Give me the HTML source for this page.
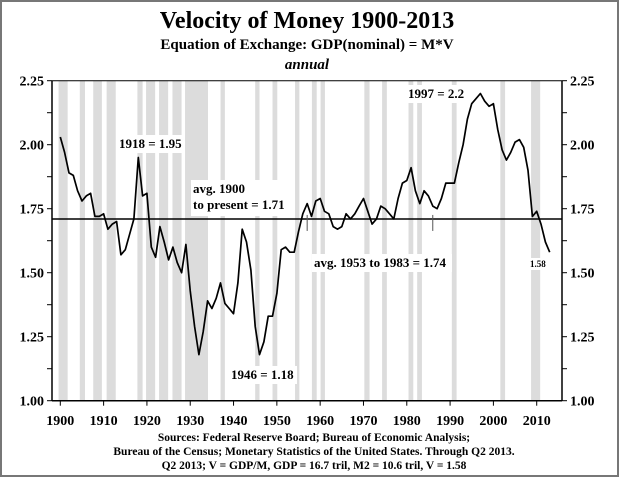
<!DOCTYPE html>
<html><head><meta charset="utf-8"><style>
html,body{margin:0;padding:0;background:#fff;}
svg{display:block;font-family:"Liberation Serif",serif;font-weight:bold;}
</style></head><body>
<svg id="chart" width="620" height="479" viewBox="0 0 620 479">
<rect x="1" y="1" width="617" height="475" fill="#fff" stroke="#777" stroke-width="2"/>
<text x="307" y="28" text-anchor="middle" font-size="24">Velocity of Money 1900-2013</text>
<text x="307" y="49" text-anchor="middle" font-size="15">Equation of Exchange: GDP(nominal) = M*V</text>
<text x="307" y="69" text-anchor="middle" font-size="15" font-style="italic">annual</text>
<g id="bands"></g>
<g id="axes"></g>
<g id="series"></g>
<g id="notes"></g>
<text x="314" y="441" text-anchor="middle" font-size="11.5">Sources: Federal Reserve Board; Bureau of Economic Analysis;</text>
<text x="314" y="455" text-anchor="middle" font-size="11.5">Bureau of the Census; Monetary Statistics of the United States. Through Q2 2013.</text>
<text x="314" y="469" text-anchor="middle" font-size="11.5">Q2 2013; V = GDP/M, GDP = 16.7 tril, M2 = 10.6 tril, V = 1.58</text>
</svg>
<script>
const years = [];
for (let y = 1900; y <= 2013; y++) years.push(y);
const velocity = [2.03,1.97,1.89,1.88,1.82,1.78,1.80,1.81,1.72,1.72,
1.73,1.67,1.69,1.70,1.57,1.59,1.65,1.71,1.95,1.80,
1.81,1.60,1.56,1.68,1.62,1.55,1.60,1.54,1.50,1.61,
1.43,1.29,1.18,1.27,1.39,1.36,1.40,1.46,1.38,1.36,
1.34,1.46,1.67,1.62,1.51,1.29,1.18,1.23,1.33,1.33,
1.42,1.59,1.60,1.58,1.58,1.66,1.73,1.77,1.72,1.78,
1.79,1.74,1.73,1.68,1.67,1.68,1.73,1.71,1.73,1.76,
1.79,1.74,1.69,1.71,1.76,1.75,1.73,1.71,1.79,1.85,
1.86,1.91,1.82,1.77,1.82,1.80,1.76,1.75,1.79,1.85,
1.85,1.85,1.93,2.00,2.10,2.16,2.18,2.20,2.17,2.15,
2.16,2.06,1.98,1.94,1.97,2.01,2.02,1.99,1.90,1.72,
1.74,1.69,1.62,1.58];
const recessionStarts = [1899.6,1904.5,1907.6,1910.7,1917.8,1919.8,1922.8,1925.9,1928.8,1937.0,1945.0,1949.0,1954.2,1958.1,1960.1,1970.2,1974.3,1980.4,1982.4,1990.4,2001.6,2008.7];
const recessionEnds   = [1901.7,1905.7,1909.6,1912.8,1919.0,1921.9,1924.9,1928.0,1934.1,1938.0,1946.0,1950.1,1955.2,1959.2,1961.1,1971.4,1975.4,1981.5,1983.5,1991.5,2002.7,2010.8];
const yTicks = [1.00,1.25,1.50,1.75,2.00,2.25];
const xTicks = [1900,1910,1920,1930,1940,1950,1960,1970,1980,1990,2000,2010];
const avgValue = 1.71;

const NS = "http://www.w3.org/2000/svg";
const L = 52, R = 562, T = 80.7, B = 400.7;
const xs = y => 60.3 + (y - 1900) * 4.331;
const ys = v => B - (v - 1) * 256;
function mk(tag, attrs, parent) {
  const e = document.createElementNS(NS, tag);
  for (const k in attrs) e.setAttribute(k, attrs[k]);
  parent.appendChild(e); return e;
}
const bands = document.getElementById('bands');
recessionStarts.forEach((s, i) => {
  const x0 = Math.max(L, xs(s)), x1 = Math.min(R, xs(recessionEnds[i]));
  const r = mk('rect', {x: x0, y: T, width: x1 - x0, height: B - T, fill: '#dcdcdc'}, bands);
  
  
});
const axes = document.getElementById('axes');
mk('line', {x1: L, y1: T, x2: L, y2: B, stroke: '#000', 'stroke-width': 1.5}, axes);
mk('line', {x1: R, y1: T, x2: R, y2: B, stroke: '#000', 'stroke-width': 1.5}, axes);
mk('line', {x1: L, y1: B, x2: R, y2: B, stroke: '#000', 'stroke-width': 1.5}, axes);
mk('line', {x1: L, y1: T, x2: R, y2: T, stroke: '#000', 'stroke-width': 1}, axes);
for (let v = 1; v <= 2.2501; v += 0.125) {
  const y = ys(v);
  mk('line', {x1: L - 5, y1: y, x2: L, y2: y, stroke: '#000'}, axes);
  mk('line', {x1: R, y1: y, x2: R + 5, y2: y, stroke: '#000'}, axes);
}
yTicks.forEach(v => {
  const y = ys(v);
  const t1 = mk('text', {x: 44, y: y + 5, 'text-anchor': 'end', 'font-size': 14}, axes);
  t1.textContent = v.toFixed(2);
  
  
  const t2 = mk('text', {x: 570, y: y + 5, 'text-anchor': 'start', 'font-size': 14}, axes);
  t2.textContent = v.toFixed(2);
  
  
});
xTicks.forEach(yr => {
  const x = xs(yr);
  mk('line', {x1: x, y1: B, x2: x, y2: B + 5, stroke: '#000'}, axes);
  const t = mk('text', {x: x, y: 425, 'text-anchor': 'middle', 'font-size': 14}, axes);
  t.textContent = yr;
  
  
});
const notes = document.getElementById('notes');
function label(x, y, w, h, lines, fs, name) {
  mk('rect', {x: x, y: y, width: w, height: h, fill: '#fff'}, notes);
  lines.forEach((s, i) => {
    const t = mk('text', {x: x + 2, y: y + fs + i * (fs + 3), 'font-size': fs}, notes);
    t.textContent = s;
    
    
  });
}
label(117, 135, 68, 18, ['1918 = 1.95'], 13, 'peak-1918-label');
label(191, 180, 100, 36, ['avg. 1900', 'to present = 1.71'], 13, 'avg-label');
label(229, 366, 68, 18, ['1946 = 1.18'], 13, 'trough-1946-label');
label(312, 254, 140, 18, ['avg. 1953 to 1983 = 1.74'], 13, 'avg-1953-1983-label');
label(406, 85, 60, 18, ['1997 = 2.2'], 13, 'peak-1997-label');
label(528, 258, 22, 12, ['1.58'], 9, 'latest-value-label');
const avg = mk('line', {x1: L, y1: ys(avgValue), x2: R, y2: ys(avgValue), stroke: '#000', 'stroke-width': 1.5}, notes);


mk('line', {x1: xs(1957), y1: ys(avgValue) - 4, x2: xs(1957), y2: ys(avgValue) + 12, stroke: '#555'}, notes);
mk('line', {x1: xs(1986), y1: ys(avgValue) - 4, x2: xs(1986), y2: ys(avgValue) + 12, stroke: '#555'}, notes);
const series = document.getElementById('series');
const pts = years.map((y, i) => xs(y).toFixed(1) + ',' + ys(velocity[i]).toFixed(1)).join(' ');
const pl = mk('polyline', {points: pts, fill: 'none', stroke: '#000', 'stroke-width': 1.7, 'stroke-linejoin': 'round'}, series);


</script>
</body></html>
